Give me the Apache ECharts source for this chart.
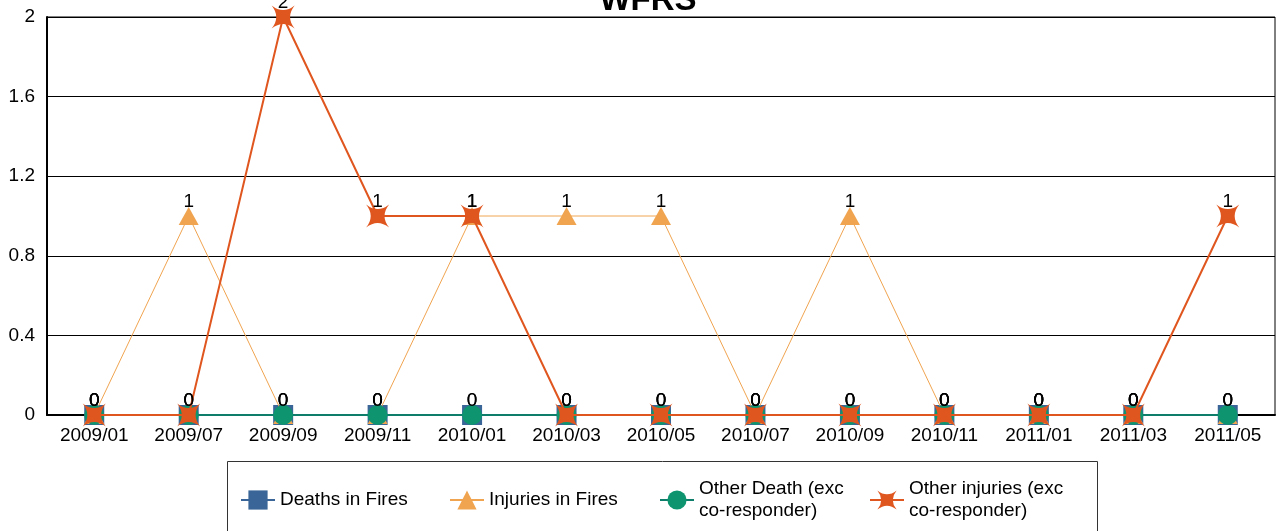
<!DOCTYPE html>
<html>
<head>
<meta charset="utf-8">
<script src="https://cdn.jsdelivr.net/npm/echarts@6/dist/echarts.min.js"></script>
<style>html,body{margin:0;padding:0;background:#fff}#c{width:1277px;height:531px}</style>
</head>
<body>
<div id="c"></div>
<script>
const categories = ['2009/01','2009/07','2009/09','2009/11','2010/01','2010/03','2010/05','2010/07','2010/09','2010/11','2011/01','2011/03','2011/05'];
const deathsInFires = [0,0,0,0,0,0,0,0,0,0,0,0,0];
const injuriesInFires = [0,1,0,0,1,1,1,0,1,0,0,0,0];
const otherDeath = [0,0,0,0,0,0,0,0,0,0,0,0,0];
const otherInjuries = [0,0,2,1,1,0,0,0,0,0,0,0,1];
const seriesNames = ['Deaths in Fires','Injuries in Fires','Other Death (exc\nco-responder)','Other injuries (exc\nco-responder)'];

const FONT = '"Liberation Sans", Arial, sans-serif';
const FS = 19;
const starPath = 'path://M-10,-10 Q0,-2 10,-10 Q2,0 10,10 Q0,2 -10,10 Q-2,0 -10,-10 Z';

const chart = echarts.init(document.getElementById('c'), null, {renderer:'canvas'});
const lbl = {show:true, position:'inside', offset:[0,-14], color:'#000', fontSize:FS, fontFamily:FONT};

function legendItem(name, left, top){
  return {data:[name], left:left, top:top, orient:'horizontal', itemWidth:34, itemHeight:24, itemGap:0,
    selectedMode:false, padding:0,
    textStyle:{fontSize:FS, fontFamily:FONT, color:'#000', lineHeight:22}};
}

chart.setOption({
  animation:false,
  backgroundColor:'#fff',
  title:{text:'WFRS', left:643, textAlign:'center', top:-21,
    textStyle:{fontSize:33, fontWeight:'bold', fontFamily:FONT, color:'#000'}},
  grid:{left:47, right:2, top:17, bottom:116, show:true, borderColor:'#000', borderWidth:1, containLabel:false},
  xAxis:{type:'category', data:categories, boundaryGap:true,
    axisLine:{lineStyle:{color:'#000', width:2}}, axisTick:{show:false},
    axisLabel:{color:'#000', fontSize:FS, fontFamily:FONT, margin:11, interval:0}},
  yAxis:{type:'value', min:0, max:2, interval:0.4,
    axisLine:{show:true, lineStyle:{color:'#000', width:2}}, axisTick:{show:false},
    axisLabel:{color:'#000', fontSize:FS, fontFamily:FONT, margin:12},
    splitLine:{lineStyle:{color:'#000', width:1}}},
  graphic:[{type:'rect', shape:{x:227.5, y:461.5, width:870, height:90}, style:{fill:'#fff', stroke:'#333', lineWidth:1}, z:-1}],
  legend:[
    legendItem(seriesNames[0], 240, 489),
    legendItem(seriesNames[1], 449, 489),
    legendItem(seriesNames[2], 659, 478),
    legendItem(seriesNames[3], 869, 478)
  ],
  series:[
    {name:seriesNames[0], type:'line', data:deathsInFires, symbol:'rect', symbolSize:20,
      itemStyle:{color:'#3A6598'}, lineStyle:{color:'#3A6598', width:1}, label:lbl, z:2},
    {name:seriesNames[1], type:'line', data:injuriesInFires, symbol:'triangle', symbolSize:[20,18],
      itemStyle:{color:'#F0A450'}, lineStyle:{color:'#F0A450', width:1}, label:lbl, z:3},
    {name:seriesNames[2], type:'line', data:otherDeath, symbol:'circle', symbolSize:20,
      itemStyle:{color:'#0E9570'}, lineStyle:{color:'#0E7D6A', width:2}, label:lbl, z:4},
    {name:seriesNames[3], type:'line', data:otherInjuries, symbol:starPath, symbolSize:23,
      itemStyle:{color:'#E0561F'}, lineStyle:{color:'#E0561F', width:2}, label:lbl, z:5}
  ]
});
</script>
</body>
</html>
